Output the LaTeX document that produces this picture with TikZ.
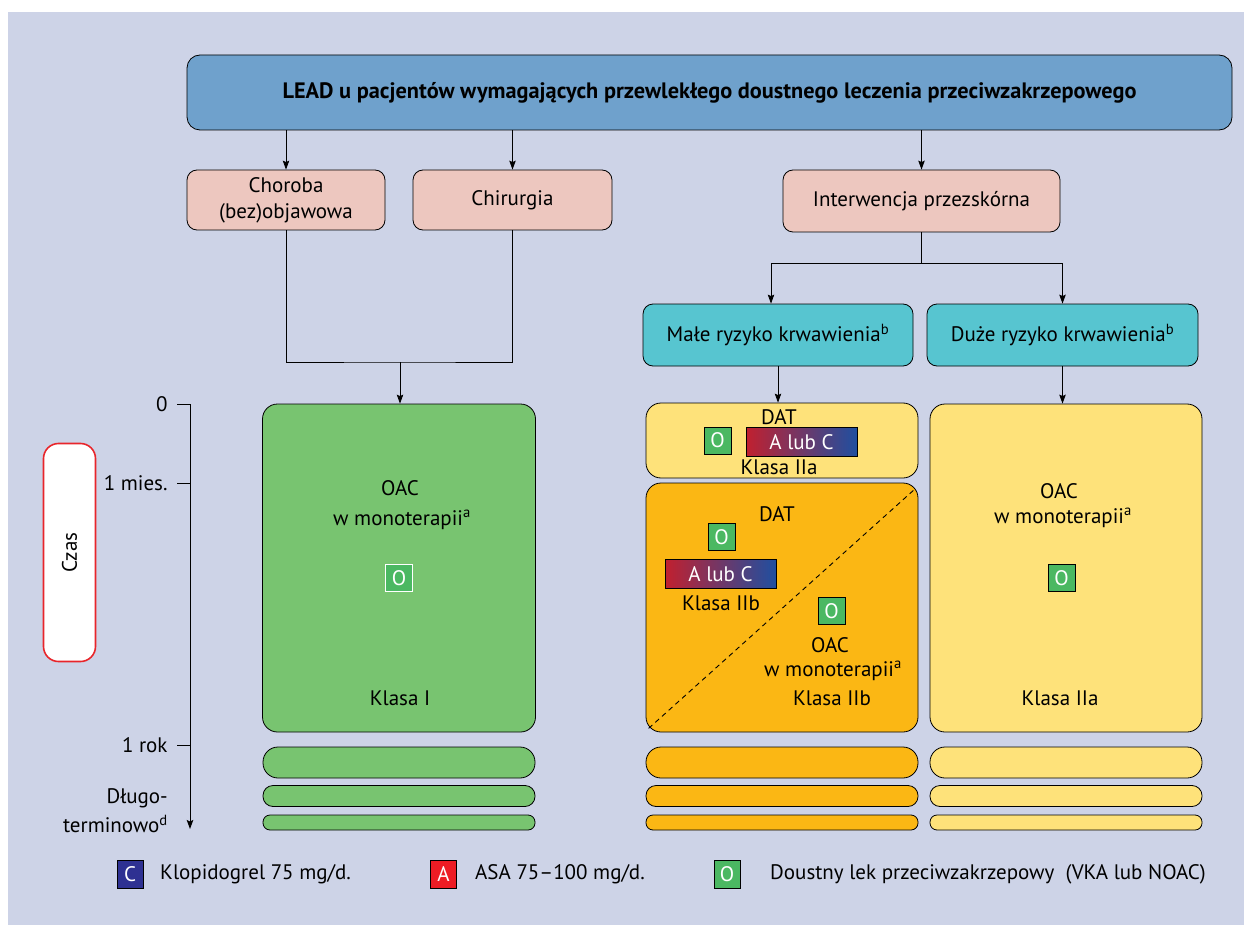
\documentclass[tikz,border=0pt]{standalone}
\usepackage{fontspec}
\setmainfont{PT Sans}
\usetikzlibrary{arrows.meta,calc}
\definecolor{bg}{HTML}{CDD3E7}
\definecolor{titlec}{HTML}{6FA1CC}
\definecolor{pinkc}{HTML}{EDC7BF}
\definecolor{cyanc}{HTML}{57C5D0}
\definecolor{greenc}{HTML}{78C470}
\definecolor{ogreen}{HTML}{4BB862}
\definecolor{yellowc}{HTML}{FEE27A}
\definecolor{orangec}{HTML}{FBB714}
\definecolor{navyc}{HTML}{2E3192}
\definecolor{redc}{HTML}{ED1C24}
\definecolor{czasred}{HTML}{E8252B}
\definecolor{gred}{HTML}{C1202F}
\definecolor{gblue}{HTML}{1F4FA0}
\tikzset{
  base/.style={font=\fontsize{21}{25}\selectfont, inner sep=0pt, align=center},
  rbox/.style={base, draw=black, line width=0.8pt, rounded corners=10pt},
  bigbox/.style={base, draw=black, line width=0.8pt, rounded corners=15pt},
  pill/.style={draw=black, line width=0.8pt, inner sep=0pt, minimum width=272pt},
  txt/.style={base},
  osq/.style={base, draw=black, line width=0.8pt, fill=ogreen, text=white, minimum width=27pt, minimum height=27pt},
  lsq/.style={base, draw=black, line width=0.8pt, text=white, minimum width=26pt, minimum height=28pt},
  gbox/.style={base, draw=black, line width=0.8pt, left color=gred, right color=gblue, text=white, minimum width=111pt, minimum height=29pt},
  arr/.style={-{Stealth[length=9pt,width=6.5pt,inset=1.5pt]}, line width=0.9pt},
  line/.style={line width=0.9pt},
}
\newcommand{\supa}[1]{\textsuperscript{#1}}
\begin{document}
\begin{tikzpicture}[x=1pt,y=-1pt]
\useasboundingbox (0,0) rectangle (1244,925);
\fill[bg] (8,12) rectangle (1244,925);

% title
\node[rbox, fill=titlec, rounded corners=13pt, minimum width=1045pt, minimum height=75pt, font=\fontsize{22.3}{26}\selectfont\bfseries] (title) at (709.5,92.5)
  {LEAD u pacjentów wymagających przewlekłego doustnego leczenia przeciwzakrzepowego};

% second row
\node[rbox, fill=pinkc, minimum width=198pt, minimum height=60pt] (choroba) at (286,200) {Choroba\\[1pt](bez)objawowa};
\node[rbox, fill=pinkc, minimum width=199pt, minimum height=60pt] (chir) at (512.5,200) {Chirurgia};
\node[rbox, fill=pinkc, minimum width=277pt, minimum height=62pt] (interw) at (921.5,201) {Interwencja przezskórna};

% cyan
\node[rbox, fill=cyanc, minimum width=270pt, minimum height=62pt] (male) at (778,335) {Małe ryzyko krwawienia\supa{b}};
\node[rbox, fill=cyanc, minimum width=271pt, minimum height=62pt] (duze) at (1062.5,335) {Duże ryzyko krwawienia\supa{b}};

% big boxes
\node[bigbox, fill=greenc, minimum width=273pt, minimum height=328pt] (green) at (399,568) {};
\node[bigbox, fill=yellowc, minimum width=272pt, minimum height=75pt] (ytop) at (782,440.5) {};
\node[bigbox, fill=orangec, minimum width=272pt, minimum height=249pt] (orange) at (782,607.5) {};
\node[bigbox, fill=yellowc, minimum width=272pt, minimum height=328pt] (yright) at (1066,568) {};

% pills
\foreach \cx/\col/\nm in {399/greenc/g, 782/orangec/o, 1066/yellowc/y}{
  \node[pill, fill=\col, minimum width=272pt, minimum height=31pt, rounded corners=15pt] (\nm p1) at (\cx,762.5) {};
  \node[pill, fill=\col, minimum width=272pt, minimum height=21pt, rounded corners=10pt] (\nm p2) at (\cx,796) {};
  \node[pill, fill=\col, minimum width=272pt, minimum height=15pt, rounded corners=7pt] (\nm p3) at (\cx,822.5) {};
}

% green box contents
\node[txt] (gOAC) at (400,488) {OAC};
\node[txt] (gmono) at (402,520) {w monoterapii\supa{a}};
\node[osq, draw=white] (gO) at (399,578) {O};
\node[txt] (gkl) at (400,698) {Klasa I};

% top yellow contents
\node[txt] (yDAT) at (779,417) {DAT};
\node[osq] (yO) at (717.5,440.5) {O};
\node[gbox] (yg) at (801.5,442) {A lub C};
\node[txt] (ykl) at (779,467) {Klasa IIa};

% orange contents
\draw[dashed, line width=0.9pt, dash pattern=on 5pt off 4pt] ($(orange.south west)+(3,-4)$) -- ($(orange.north east)+(-3,6)$);
\node[txt] (oDAT) at (777,514) {DAT};
\node[osq] (oO1) at (721.5,537) {O};
\node[gbox] (og) at (720.5,574) {A lub C};
\node[txt] (okl1) at (721,603) {Klasa IIb};
\node[osq] (oO2) at (831.5,611) {O};
\node[txt] (oOAC) at (830,645) {OAC};
\node[txt] (omono) at (833,671) {w monoterapii\supa{a}};
\node[txt] (okl2) at (832,698) {Klasa IIb};

% right yellow contents
\node[txt] (rOAC) at (1059,491) {OAC};
\node[txt] (rmono) at (1063,518) {w monoterapii\supa{a}};
\node[osq] (rO) at (1061.5,578) {O};
\node[txt] (rkl) at (1060,698) {Klasa IIa};

% connectors
\draw[arr] (choroba.north |- title.south) -- (choroba.north);
\draw[arr] (chir.north |- title.south) -- (chir.north);
\draw[arr] (interw.north |- title.south) -- (interw.north);
\coordinate (split) at (921.5,263);
\draw[line] (interw.south) -- (split);
\draw[arr] (split) -| ($(male.north)+(-7,0)$);
\draw[arr] (split) -| (duze.north);
\draw[arr] (male.south) -- (male.south |- ytop.north);
\draw[arr] (duze.south) -- (duze.south |- yright.north);
\coordinate (join) at (400,362);
\draw[line] (choroba.south) |- (join) -| (chir.south);
\draw[arr] (join) -- (join |- green.north);

% time axis
\node[rbox, draw=czasred, line width=1.6pt, fill=white, rounded corners=15pt, minimum width=52pt, minimum height=218pt] (czas) at (69.5,552.5) {};
\node[txt, rotate=90] (czast) at (czas.center) {Czas};
\coordinate (t0) at (190,404);
\coordinate (t1) at (190,483);
\coordinate (t2) at (190,745);
\coordinate (tend) at (190,829);
\draw[arr] (t0) -- (tend);
\draw[line] (t0) -- ++(-13,0) node[txt, anchor=east, xshift=-9pt] (l0) {0};
\draw[line] (t1) -- ++(-13,0) node[txt, anchor=east, xshift=-9pt] (l1) {1 mies.};
\draw[line] (t2) -- ++(-13,0) node[txt, anchor=east, xshift=-9pt] (l2) {1 rok};
\node[txt, anchor=east] (l3) at (168,798) {Długo-};
\node[txt, anchor=east] (l4) at (168,824) {terminowo\supa{d}};

% legend
\node[lsq, fill=navyc] (lC) at (130,874) {C};
\node[txt, anchor=west] (lCt) at (160,874) {Klopidogrel 75 mg/d.};
\node[lsq, fill=redc] (lA) at (443.5,874) {A};
\node[txt, anchor=west] (lAt) at (475,874) {ASA 75–100 mg/d.};
\node[lsq, fill=ogreen] (lO) at (727,874) {O};
\node[txt, anchor=west] (lOt) at (770,874) {Doustny lek przeciwzakrzepowy\ \ (VKA lub NOAC)};
\end{tikzpicture}
\end{document}
